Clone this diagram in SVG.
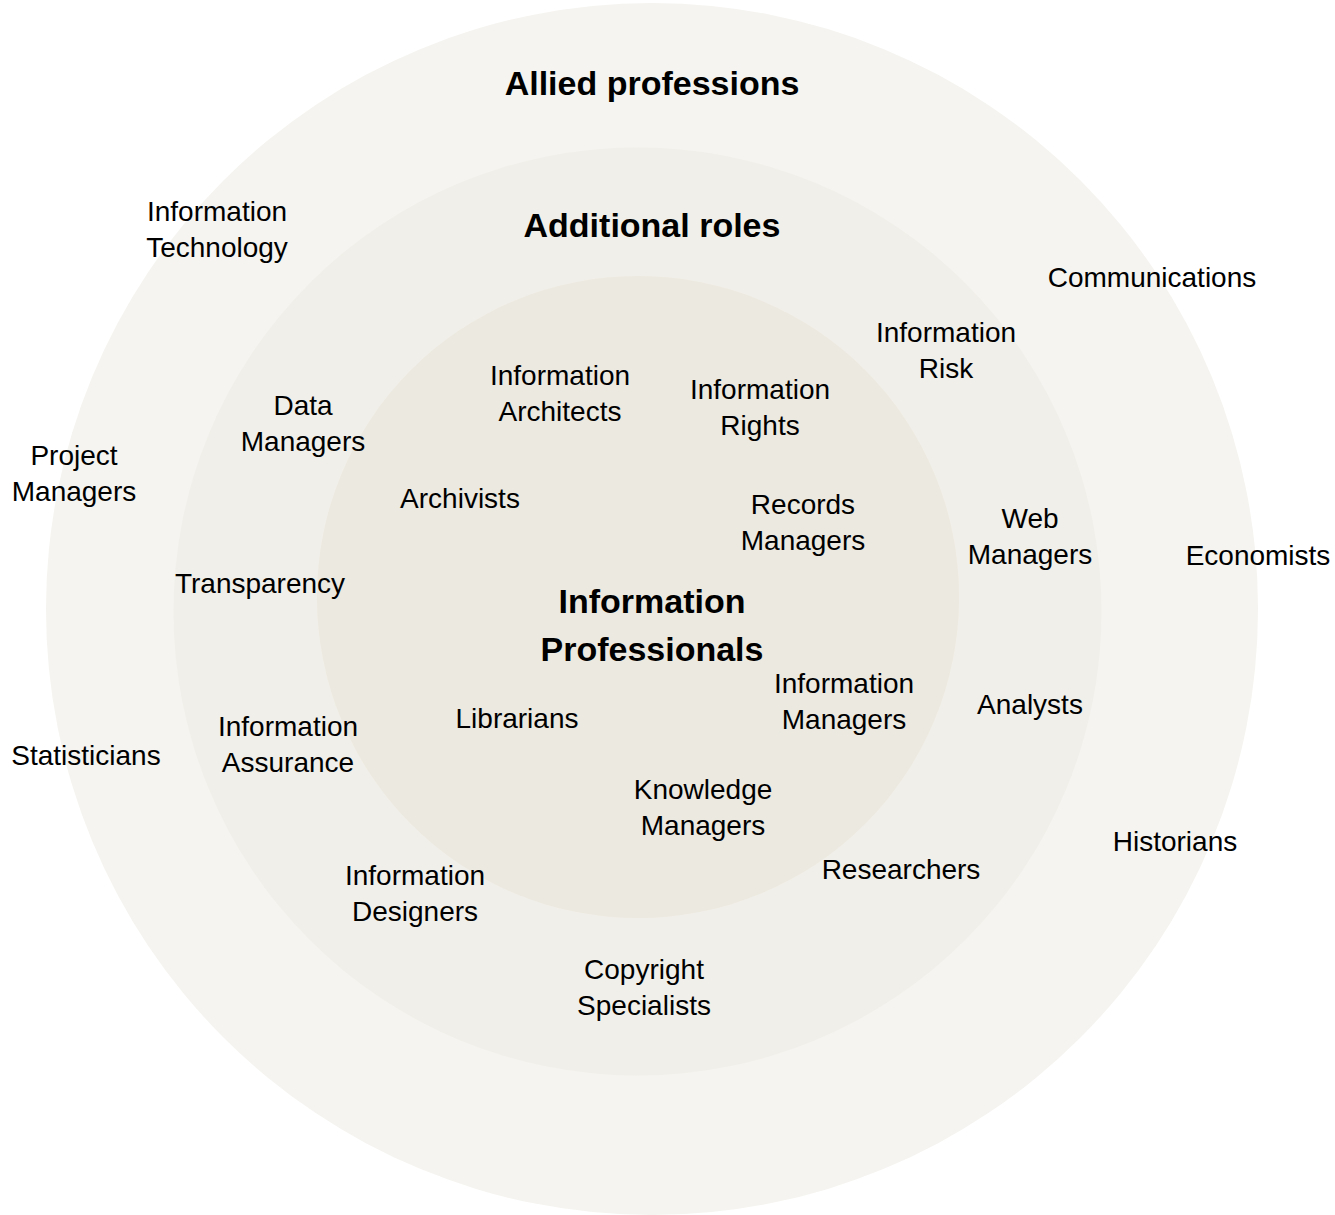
<svg xmlns="http://www.w3.org/2000/svg" width="1335" height="1215" viewBox="0 0 1335 1215">
<style>
.t{font-family:"Liberation Sans",Arial,sans-serif;font-size:28px;fill:#000;text-anchor:middle}
.b{font-family:"Liberation Sans",Arial,sans-serif;font-size:34px;font-weight:bold;fill:#000;text-anchor:middle}
</style>
<rect width="1335" height="1215" fill="#ffffff"/>
<g id="rings">
<circle id="ring-allied" cx="652" cy="609" r="606" fill="#f5f4f0"/>
<circle id="ring-additional" cx="637.5" cy="611.5" r="464" fill="#f1efe9"/>
<circle id="ring-core" cx="638" cy="597" r="321" fill="#ece9e0"/>
</g>
<g id="title-allied"><text class="b" x="652" y="95">Allied professions</text></g>
<g id="title-additional"><text class="b" x="652" y="237">Additional roles</text></g>
<g id="title-core"><text class="b" x="652" y="613">Information</text><text class="b" x="652" y="661">Professionals</text></g>
<g id="n-it"><text class="t" x="217" y="221">Information</text><text class="t" x="217" y="257">Technology</text></g>
<g id="n-communications"><text class="t" x="1152" y="287">Communications</text></g>
<g id="n-risk"><text class="t" x="946" y="342">Information</text><text class="t" x="946" y="378">Risk</text></g>
<g id="n-architects"><text class="t" x="560" y="385">Information</text><text class="t" x="560" y="421">Architects</text></g>
<g id="n-rights"><text class="t" x="760" y="399">Information</text><text class="t" x="760" y="435">Rights</text></g>
<g id="n-data"><text class="t" x="303" y="415">Data</text><text class="t" x="303" y="451">Managers</text></g>
<g id="n-project"><text class="t" x="74" y="465">Project</text><text class="t" x="74" y="501">Managers</text></g>
<g id="n-archivists"><text class="t" x="460" y="508">Archivists</text></g>
<g id="n-records"><text class="t" x="803" y="514">Records</text><text class="t" x="803" y="550">Managers</text></g>
<g id="n-web"><text class="t" x="1030" y="528">Web</text><text class="t" x="1030" y="564">Managers</text></g>
<g id="n-economists"><text class="t" x="1258" y="565">Economists</text></g>
<g id="n-transparency"><text class="t" x="260" y="593">Transparency</text></g>
<g id="n-infomanagers"><text class="t" x="844" y="693">Information</text><text class="t" x="844" y="729">Managers</text></g>
<g id="n-analysts"><text class="t" x="1030" y="714">Analysts</text></g>
<g id="n-librarians"><text class="t" x="517" y="728">Librarians</text></g>
<g id="n-assurance"><text class="t" x="288" y="736">Information</text><text class="t" x="288" y="772">Assurance</text></g>
<g id="n-statisticians"><text class="t" x="86" y="765">Statisticians</text></g>
<g id="n-knowledge"><text class="t" x="703" y="799">Knowledge</text><text class="t" x="703" y="835">Managers</text></g>
<g id="n-historians"><text class="t" x="1175" y="851">Historians</text></g>
<g id="n-researchers"><text class="t" x="901" y="879">Researchers</text></g>
<g id="n-designers"><text class="t" x="415" y="885">Information</text><text class="t" x="415" y="921">Designers</text></g>
<g id="n-copyright"><text class="t" x="644" y="979">Copyright</text><text class="t" x="644" y="1015">Specialists</text></g>
</svg>
